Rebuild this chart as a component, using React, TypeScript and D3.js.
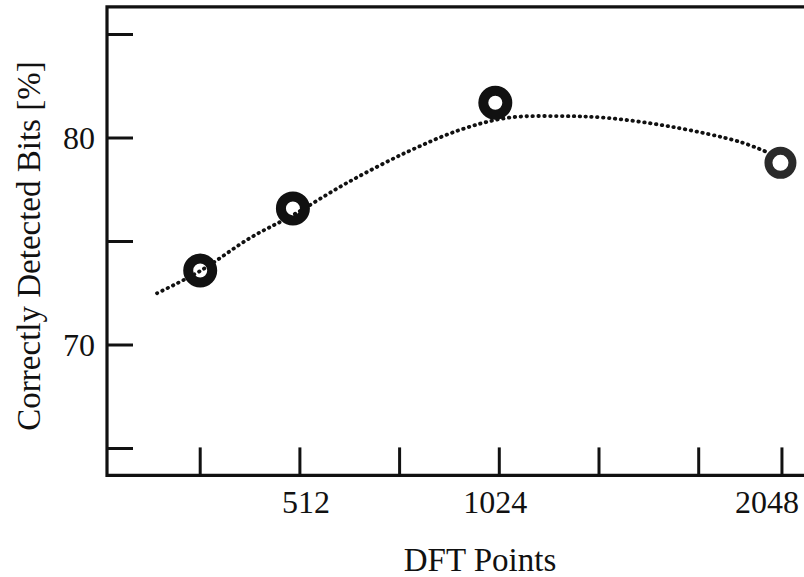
import React, { useEffect, useRef } from 'react';
import * as d3 from 'd3';

// positions on the x axis are in "tick units" (one unit per minor tick)
const xTickValues = [1, 2, 3, 4, 5, 6, 6.835];
const xLabelPos = [2.06, 3.96, 6.685];
const xLabels = ['512', '1024', '2048'];

const yTickValues = [65, 70, 75, 80, 85];
const yLabelValues = [70, 80];

// measured points (DFT points 256 / 512 / 1024 / 2048)
const pointX = [1.0, 1.93, 3.96, 6.82];
const pointY = [73.6, 76.6, 81.7, 78.8];

// fitted trend curve
const curveX = [0.567, 0.998, 1.5, 1.931, 2.472, 3.074, 3.605, 4.077, 4.589, 5.08, 5.742, 6.414, 6.685];
const curveY = [72.5, 73.57, 75.17, 76.28, 77.83, 79.32, 80.39, 80.97, 81.06, 80.97, 80.53, 79.81, 79.32];

const W = 804;
const H = 577;
const font = '"Liberation Serif", "Times New Roman", serif';

const App: React.FC = () => {
  const svgRef = useRef<SVGSVGElement>(null);

  useEffect(() => {
    if (!svgRef.current) return;
    const svg = d3.select(svgRef.current);
    svg.selectAll('*').remove();

    const x = d3.scaleLinear().domain([0, 7]).range([100.5, 798.4]);
    const y = d3.scaleLinear().domain([65, 85]).range([448.5, 34.5]);

    const left = 107;
    const right = W;
    const top = y(86.33);
    const bottom = y(63.7);
    const ink = '#111';

    // frame: left axis, bottom axis, top border
    svg.append('path')
      .attr('d', `M${right},${top}H${left}V${bottom}H${right}`)
      .attr('fill', 'none')
      .attr('stroke', ink)
      .attr('stroke-width', 3.2);

    // inward x ticks
    svg.append('g')
      .selectAll('line')
      .data(xTickValues)
      .join('line')
      .attr('x1', d => x(d)).attr('x2', d => x(d))
      .attr('y1', bottom).attr('y2', bottom - 28)
      .attr('stroke', ink)
      .attr('stroke-width', 3);

    svg.append('g')
      .selectAll('text')
      .data(xLabels)
      .join('text')
      .attr('x', (_, i) => x(xLabelPos[i]))
      .attr('y', 513)
      .attr('text-anchor', 'middle')
      .attr('font-family', font)
      .attr('font-size', 32)
      .attr('fill', ink)
      .text(d => d);

    // inward y ticks
    svg.append('g')
      .selectAll('line')
      .data(yTickValues)
      .join('line')
      .attr('x1', left).attr('x2', left + 26)
      .attr('y1', d => y(d)).attr('y2', d => y(d))
      .attr('stroke', ink)
      .attr('stroke-width', 3);

    svg.append('g')
      .selectAll('text')
      .data(yLabelValues)
      .join('text')
      .attr('x', 95)
      .attr('y', d => y(d))
      .attr('dy', '0.34em')
      .attr('text-anchor', 'end')
      .attr('font-family', font)
      .attr('font-size', 32)
      .attr('fill', ink)
      .text(d => d);

    // axis titles
    svg.append('text')
      .attr('x', 480)
      .attr('y', 571)
      .attr('text-anchor', 'middle')
      .attr('font-family', font)
      .attr('font-size', 33)
      .attr('fill', ink)
      .text('DFT Points');

    svg.append('text')
      .attr('transform', 'translate(40,246) rotate(-90)')
      .attr('text-anchor', 'middle')
      .attr('font-family', font)
      .attr('font-size', 33)
      .attr('fill', ink)
      .text('Correctly Detected Bits [%]');

    // dotted trend curve
    const curveData = curveX.map((cx, i) => [cx, curveY[i]] as [number, number]);
    const line = d3.line<[number, number]>()
      .x(d => x(d[0]))
      .y(d => y(d[1]))
      .curve(d3.curveCatmullRom.alpha(0.5));

    svg.append('path')
      .datum(curveData)
      .attr('d', line)
      .attr('fill', 'none')
      .attr('stroke', ink)
      .attr('stroke-width', 3.8)
      .attr('stroke-linecap', 'round')
      .attr('stroke-dasharray', '0.5 5.4');

    // ring markers
    svg.append('g')
      .selectAll('circle')
      .data(pointX)
      .join('circle')
      .attr('cx', d => x(d))
      .attr('cy', (_, i) => y(pointY[i]))
      .attr('r', 12)
      .attr('fill', 'none')
      .attr('stroke', (_, i) => (i === 3 ? '#2a2a2a' : ink))
      .attr('stroke-width', (_, i) => (i === 3 ? 8 : 10));
  }, []);

  return (
    <div style={{ position: 'absolute', left: 0, top: 0, background: '#fff' }}>
      <svg ref={svgRef} width={W} height={H} viewBox={`0 0 ${W} ${H}`} style={{ display: 'block' }} />
    </div>
  );
};

export default App;
